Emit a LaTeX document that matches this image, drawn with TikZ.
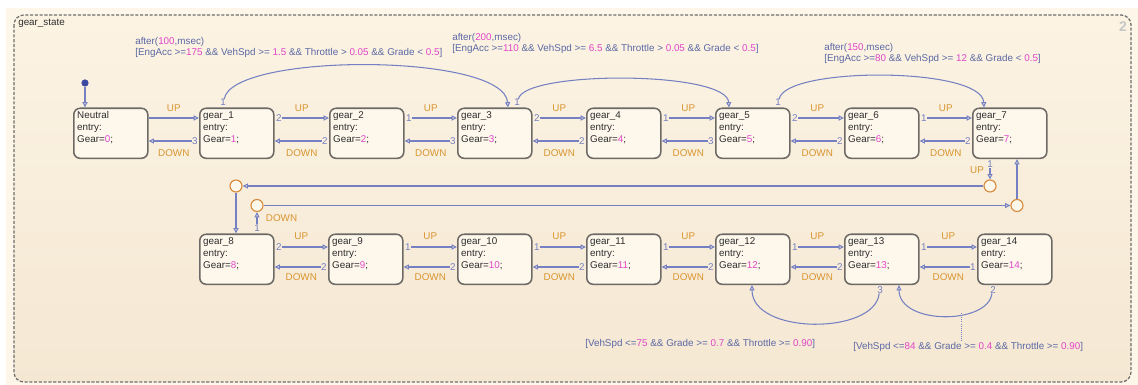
\documentclass[tikz,border=0pt]{standalone}
\usepackage{fontspec}
\setmainfont{Liberation Sans}
\usepackage{tikz}
\usetikzlibrary{arrows.meta,calc,positioning}

\definecolor{pagebg}{HTML}{FEF6E8}
\definecolor{charttop}{HTML}{FCF3E3}
\definecolor{chartbot}{HTML}{F5E8D3}
\definecolor{chartline}{HTML}{6E6E6E}
\definecolor{boxfill}{HTML}{FDF7EC}
\definecolor{boxline}{HTML}{6D6A66}
\definecolor{boxtext}{HTML}{2E2E2E}
\definecolor{gearnum}{HTML}{E246C8}
\definecolor{transc}{HTML}{7480C2}
\definecolor{evtc}{HTML}{D9952F}
\definecolor{condc}{HTML}{5B68A4}
\definecolor{juncc}{HTML}{D88A3C}
\definecolor{dotc}{HTML}{3C4AA2}

\newcommand{\gv}[1]{\textcolor{gearnum}{#1}}

\tikzset{>={Triangle[open,length=3.8pt,width=3.6pt]}}
\tikzset{
  gearbox/.style={draw=boxline, fill=boxfill, line width=1.1pt, rounded corners=4.5pt,
    minimum width=1.85cm, minimum height=1.25cm, inner sep=0pt, anchor=north west},
  boxtxt/.style={anchor=north west, align=left, inner sep=2.8pt, text=boxtext,
    font=\fontsize{7}{8.4}\selectfont},
  trans/.style={draw=transc, line width=0.75pt, ->},
  updown/.style={text=evtc, font=\fontsize{7}{8}\selectfont, inner sep=0pt},
  srcnum/.style={text=transc, font=\fontsize{7}{8}\selectfont, inner sep=0.7pt},
  junc/.style={circle, draw=juncc, fill=boxfill, line width=0.8pt, minimum size=0.3cm, inner sep=0pt},
  cond/.style={text=condc, align=left, inner sep=0pt, font=\fontsize{7}{7.8}\selectfont}
}

\begin{document}
\begin{tikzpicture}[x=0.025cm, y=-0.025cm]
\useasboundingbox (0,0) rectangle (1138,385);
\fill[pagebg] (6,8) rectangle (1138,385);
\draw[draw=chartline, line width=0.9pt, dash pattern=on 2.2pt off 1.2pt, rounded corners=7pt,
  top color=charttop, bottom color=chartbot] (14,15) rectangle (1131,382);

\node[anchor=west, inner sep=0pt, text=boxtext, font=\fontsize{7}{8}\selectfont] (title) at (18,23.5) {gear\_state};
\node[text=black!22, font=\fontsize{10}{12}\selectfont\bfseries, inner sep=0pt] (chartid) at (1123,27) {2};

\node[gearbox, label={[boxtxt]north west:{Neutral\\entry:\\Gear=\gv{0};}}] (neutral) at (73,107.5) {};
\foreach \g/\x in {1/199,2/329,3/457,4/586,5/715,6/844,7/972}
  \node[gearbox, label={[boxtxt]north west:{gear\_\g\\entry:\\Gear=\gv{\g};}}] (gear\g) at (\x,107.5) {};
\foreach \g/\x in {8/199,9/328,10/457,11/586,12/715,13/844,14/977}
  \node[gearbox, label={[boxtxt]north west:{gear\_\g\\entry:\\Gear=\gv{\g};}}] (gear\g) at (\x,233.5) {};

\node[circle, fill=dotc, minimum size=0.18cm, inner sep=0pt] (init) at (85,83) {};
\draw[trans] (init) -- (init |- neutral.north);

\draw[trans] (neutral.east |- 0,118) -- node[updown, yshift=7pt] {UP} (gear1.west |- 0,118);
\draw[trans, shorten <=5pt] (gear1.west |- 0,141) -- node[updown, yshift=-8.5pt] {DOWN} (neutral.east |- 0,141)
  node[srcnum, at start, anchor=east] {3};
\foreach \p/\q/\su/\sd in {1/2/2/2,2/3/1/3,3/4/2/2,4/5/1/3,5/6/2/2,6/7/1/2} {
  \draw[trans, shorten <=5pt] (gear\p.east |- 0,118) -- node[updown, yshift=7pt] {UP} (gear\q.west |- 0,118)
    node[srcnum, at start, anchor=west] {\su};
  \draw[trans, shorten <=5pt] (gear\q.west |- 0,141) -- node[updown, yshift=-8.5pt] {DOWN} (gear\p.east |- 0,141)
    node[srcnum, at start, anchor=east] {\sd};
}
\foreach \p/\q/\su/\sd in {8/9/2/2,9/10/1/2,10/11/1/2,11/12/1/2,12/13/1/2,13/14/1/1} {
  \draw[trans, shorten <=5pt] (gear\p.east |- 0,247) -- node[updown, yshift=7.8pt] {UP} (gear\q.west |- 0,247)
    node[srcnum, at start, anchor=west] {\su};
  \draw[trans, shorten <=5pt] (gear\q.west |- 0,267) -- node[updown, yshift=-7pt] {DOWN} (gear\p.east |- 0,267)
    node[srcnum, at start, anchor=east] {\sd};
}

\draw[trans, shorten <=6pt] ($(gear1.north west)+(24,0)$) .. controls +(8,-55) and +(-4,-55) .. ($(gear3.north west)+(51,0)$)
  node[srcnum, at start, anchor=south] {1};
\draw[trans, shorten <=6pt] ($(gear3.north west)+(60,0)$) .. controls +(6,-37) and +(-2,-37) .. ($(gear5.north west)+(14,0)$)
  node[srcnum, at start, anchor=south] {1};
\draw[trans, shorten <=6pt] ($(gear5.north west)+(63,0)$) .. controls +(6,-41) and +(-2,-41) .. ($(gear7.north west)+(12,0)$)
  node[srcnum, at start, anchor=south] {1};

\draw[trans, shorten <=6pt] ($(gear13.south west)+(36,0)$) .. controls +(-5,50) and +(0,50) .. ($(gear12.south west)+(37,0)$)
  node[srcnum, at start, anchor=north] {3};
\draw[trans, shorten <=6pt] ($(gear14.south west)+(16,0)$) .. controls +(-5,40) and +(0,40) .. ($(gear13.south west)+(55,0)$)
  coordinate[pos=0.37] (mid2) node[srcnum, at start, anchor=north] {2};

\node[junc] (j1) at (236,186) {};
\node[junc] (j2) at (257,205.5) {};
\node[junc] (j3) at (990,186) {};
\node[junc] (j4) at (1017,205.5) {};

\draw[trans, shorten <=6.5pt] ($(gear7.south west)+(18,0)$) -- (j3)
  node[srcnum, at start, anchor=north] {1} node[updown, pos=0.55, left=4pt] {UP};
\draw[trans] (j3) -- (j1);
\draw[trans] (j1) -- (j1 |- gear8.north);
\draw[trans, shorten <=6.5pt] (j2 |- gear8.north) -- (j2)
  node[srcnum, at start, anchor=south] {1} node[updown, pos=0.72, right=6pt] {DOWN};
\draw[trans] (j2) -- (j4);
\draw[trans] (j4) -- (j4 |- gear7.south);

\node[cond, anchor=north west] (after100) at (135,37) {after(\gv{100},msec)\\{}[EngAcc >=\gv{175} \&\& VehSpd >= \gv{1.5} \&\& Throttle > \gv{0.05} \&\& Grade < \gv{0.5}]};
\node[cond, anchor=north west] (after200) at (452,33) {after(\gv{200},msec)\\{}[EngAcc >=\gv{110} \&\& VehSpd >= \gv{6.5} \&\& Throttle > \gv{0.05} \&\& Grade < \gv{0.5}]};
\node[cond, anchor=north west] (after150) at (824,43) {after(\gv{150},msec)\\{}[EngAcc >=\gv{80} \&\& VehSpd >= \gv{12} \&\& Grade < \gv{0.5}]};

\node[cond, anchor=west] (down75) at (585,344) {[VehSpd <=\gv{75} \&\& Grade >= \gv{0.7} \&\& Throttle >= \gv{0.90}]};
\node[cond, anchor=west] (down84) at (853,347) {[VehSpd <=\gv{84} \&\& Grade >= \gv{0.4} \&\& Throttle >= \gv{0.90}]};
\draw[transc, densely dotted, line width=0.5pt] (mid2) -- (mid2 |- down84.north);
\end{tikzpicture}
\end{document}
